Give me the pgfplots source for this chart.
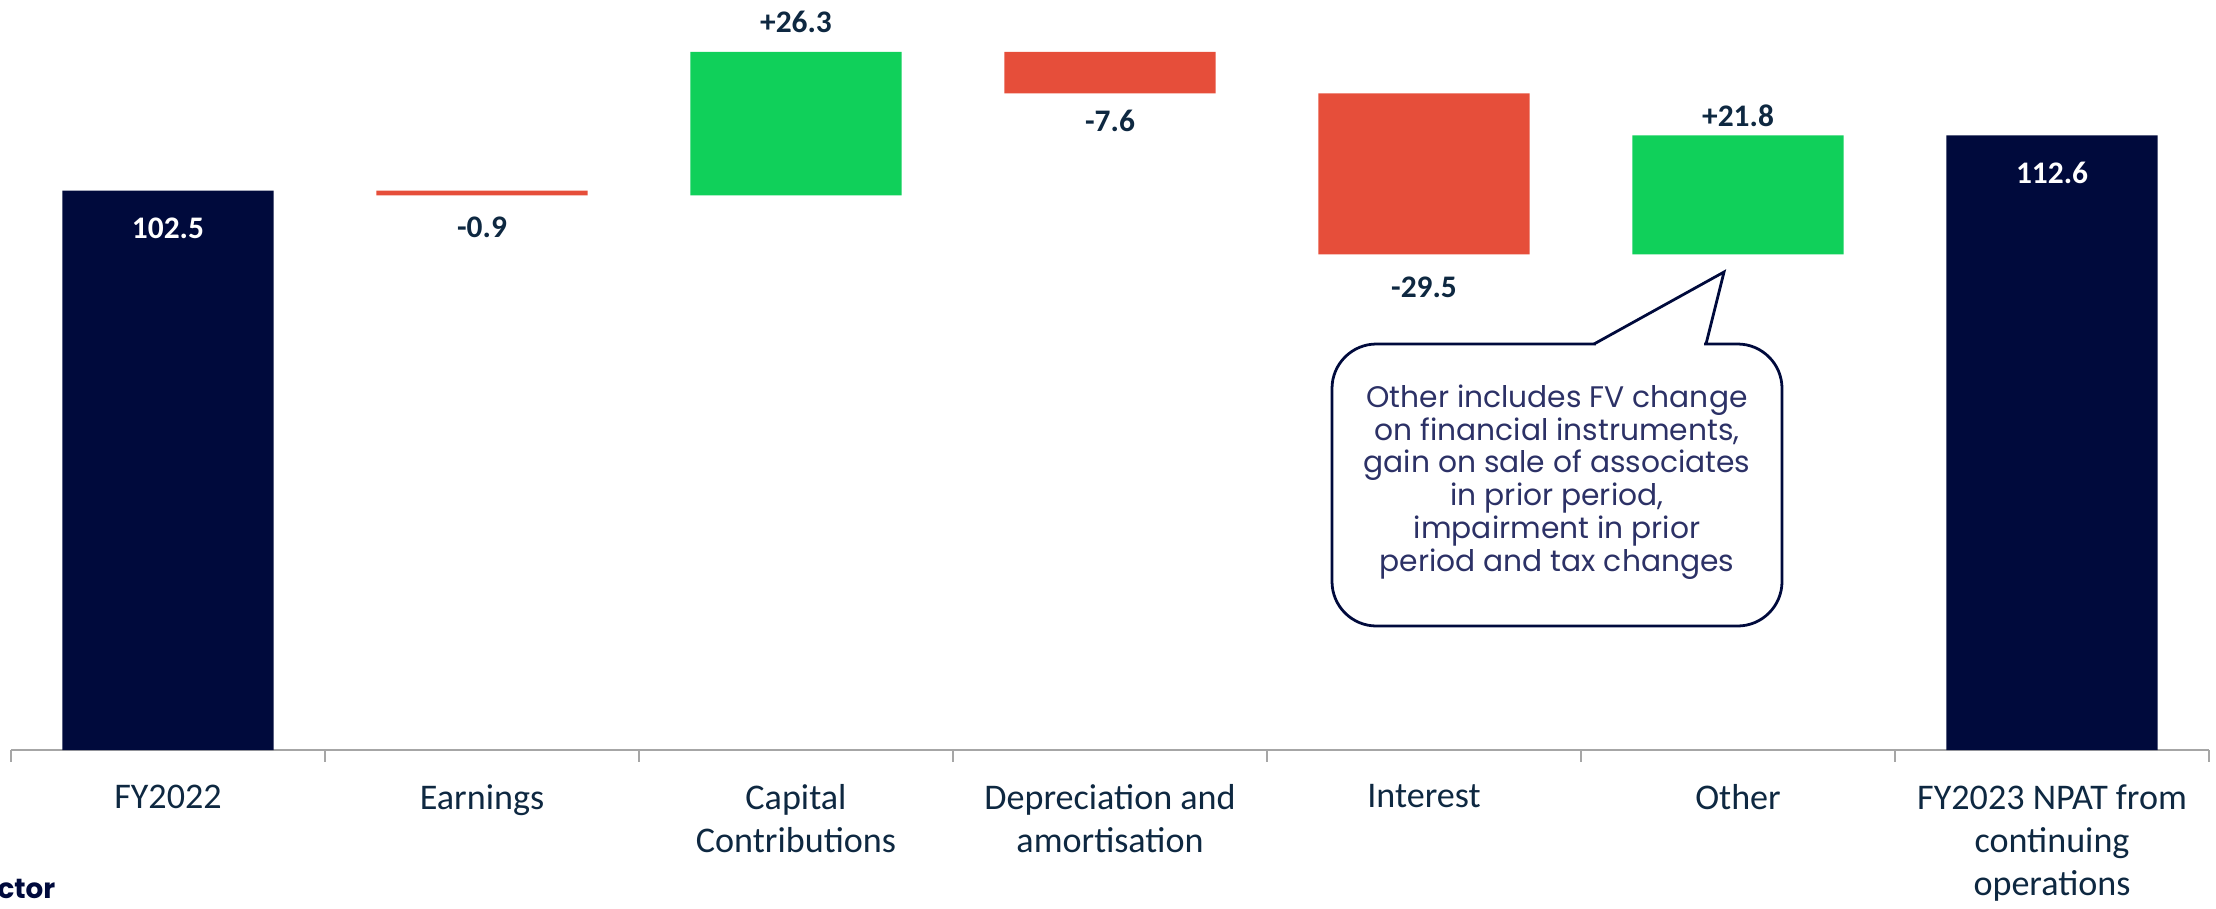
\documentclass[border=0pt]{standalone}
\usepackage{pgfplots}
\pgfplotsset{compat=1.18}
\usepackage{pgfplotstable}
\usepackage{fontspec}
\setmainfont{Carlito}
\newfontfamily\callfont{Poppins}
\definecolor{navy}{HTML}{000A3C}
\definecolor{upgreen}{HTML}{10D05A}
\definecolor{downred}{HTML}{E64E3A}
\definecolor{labtxt}{HTML}{0E2841}
\definecolor{axgray}{HTML}{A6A6A6}
\definecolor{calltxt}{HTML}{2C3166}
\tikzset{lbl/.style={font=\fontsize{11.3}{13}\selectfont\bfseries, text=labtxt}}

% waterfall: invisible base + one visible step per category
\pgfplotstableread{
x base total down up
0 0     102.5 0    0
1 101.6 0     0.9  0
2 101.6 0     0    26.3
3 120.3 0     7.6  0
4 90.8  0     29.5 0
5 90.8  0     0    21.8
6 0     112.6 0    0
}\wfdata

\begin{document}
\begin{tikzpicture}
  \path[use as bounding box] (0,0) rectangle (797.76pt,-326.88pt);
  \begin{axis}[
    at={(3.96pt,-270pt)}, anchor=south west,
    scale only axis, width=791.3pt, height=270pt,
    ybar stacked, bar width=76pt,
    xmin=-0.5, xmax=6.5, ymin=0, ymax=137.4,
    axis x line*=bottom, hide y axis,
    axis line style={axgray, line width=0.6pt},
    xtick={0,...,6}, major tick length=0pt,
    xticklabels={FY2022, Earnings, {Capital\\Contributions},
      {Depreciation and\\amortisation}, Interest, Other,
      {FY2023 NPAT from\\continuing\\operations}},
    xticklabel style={align=center, font=\fontsize{13}{15.5}\selectfont,
      text=labtxt, yshift=-9pt},
    clip=false,
  ]
    \addplot[draw=none, fill=none] table[x=x, y=base] {\wfdata};
    \addplot[draw=none, fill=navy] table[x=x, y=total] {\wfdata};
    \addplot[draw=none, fill=downred] table[x=x, y=down] {\wfdata};
    \addplot[draw=none, fill=upgreen] table[x=x, y=up] {\wfdata};

    % label anchors, written after the bars are drawn
    \coordinate (l0) at (axis cs:0,95.5);
    \coordinate (l1) at (axis cs:1,95.8);
    \coordinate (l2) at (axis cs:2,133.4);
    \coordinate (l3) at (axis cs:3,115.3);
    \coordinate (l4) at (axis cs:4,84.7);
    \coordinate (l5) at (axis cs:5,116.2);
    \coordinate (l6) at (axis cs:6,105.7);
  \end{axis}

  \node[lbl, text=white] at (l0) {102.5};
  \node[lbl] at (l1) {-0.9};
  \node[lbl] at (l2) {+26.3};
  \node[lbl] at (l3) {-7.6};
  \node[lbl] at (l4) {-29.5};
  \node[lbl] at (l5) {+21.8};
  \node[lbl, text=white] at (l6) {112.6};

  \begin{scope}[x=0.36pt, y=-0.36pt]
    % category boundary ticks under the axis line
    \foreach \t in {11,325,639,953,1267,1581,1895,2209}
      \draw[axgray, line width=0.6pt] (\t,750) -- (\t,762);
    % callout
    \draw[navy, line width=1pt, rounded corners=16pt] (1332,344) rectangle (1782,626);
    \fill[white] (1596,340) rectangle (1704,348);
    \draw[navy, line width=1pt, line join=miter] (1594,344) -- (1724,272) -- (1706,344);
    \node[align=center, text=calltxt, font=\callfont\fontsize{10.7}{11.8}\selectfont]
      at (1557,482) {Other includes FV change\\on financial instruments,\\gain on sale of associates\\in prior period,\\impairment in prior\\period and tax changes};
    % cropped logo text
    \node[anchor=base west, inner sep=0pt, text=navy, font=\callfont\fontsize{10}{11}\selectfont\bfseries]
      at (-3,898) {ctor};
  \end{scope}
\end{tikzpicture}
\end{document}
